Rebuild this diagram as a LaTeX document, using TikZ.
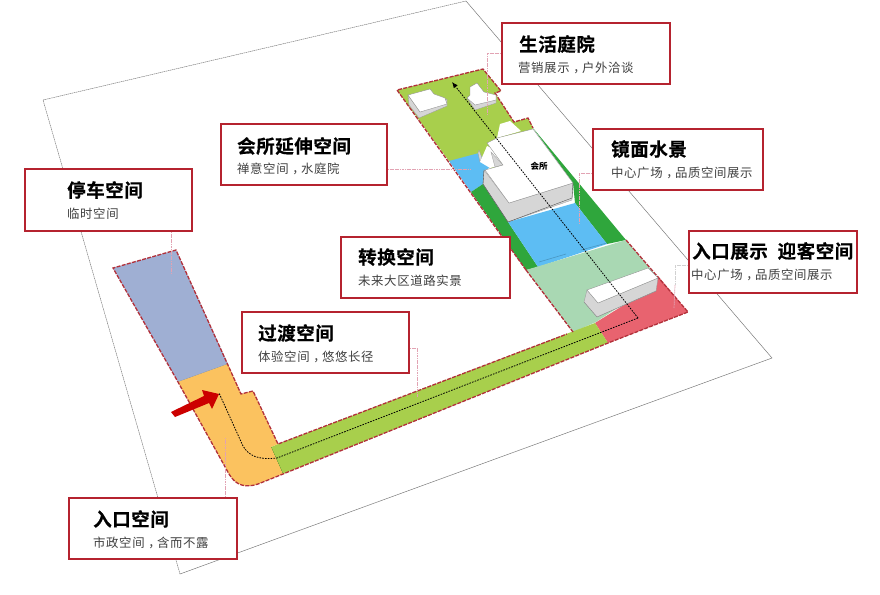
\documentclass[tikz,border=0pt]{standalone}
\usepackage{fontspec}
\usetikzlibrary{arrows.meta}
\newfontfamily\headfont[LetterSpace=3,BoldFont={Noto Sans CJK SC Bold},BoldFeatures={FakeBold=0.6}]{Noto Sans CJK SC}
\newfontfamily\subfont[LetterSpace=5]{Noto Sans CJK SC}
\newfontfamily\tagfont{Noto Sans CJK SC}
\newcommand{\cmm}{\hspace*{.3em}，\hspace*{-.3em}}
\definecolor{boxred}{HTML}{B5232F}
\definecolor{lawn}{HTML}{A8CF4C}
\definecolor{deepgreen}{HTML}{2FA63C}
\definecolor{water}{HTML}{5DBDF3}
\definecolor{palegreen}{HTML}{A9D8B3}
\definecolor{entryred}{HTML}{E8636F}
\definecolor{sand}{HTML}{FBC25F}
\definecolor{slateblue}{HTML}{9FAFD3}
\definecolor{wallgrey}{HTML}{D6D6D6}
\definecolor{leader}{HTML}{E2A3B3}
\definecolor{edgered}{HTML}{B2303A}
\tikzset{
 labelbox/.style={draw=boxred,line width=1.9pt,fill=white,inner sep=0pt},
 headtext/.style={anchor=west,inner sep=0pt,font=\headfont\bfseries\fontsize{18.5}{21}\selectfont,text=black},
 subtext/.style={anchor=west,inner sep=0pt,font=\subfont\fontsize{12.4}{14}\selectfont,text=black!75},
 leaderline/.style={draw=leader,line width=.7pt,dash pattern=on 1.2pt off .5pt},
 sheetline/.style={draw=black!55,line width=.45pt},
 sitedash/.style={draw=edgered,line width=1.3pt,dash pattern=on 4pt off 1.3pt},
 walk/.style={draw=black,line width=.8pt,dash pattern=on 1.6pt off 1.2pt},
 roof/.style={fill=white,draw=black!45,line width=.35pt},
 wall/.style={fill=wallgrey,draw=black!40,line width=.3pt},
}
\begin{document}
\begin{tikzpicture}[x=1pt,y=-1pt]
\useasboundingbox (0,0) rectangle (880,594);
\fill[white] (0,0) rectangle (880,594);
% sheet
\draw[sheetline,dash pattern=on 1.5pt off .6pt] (180,574) -- (43,100) -- (466,1);
\draw[sheetline] (466,1) -- (772,358) -- (180,574);
% upper parcel
\fill[lawn] (397,90) -- (483,69) -- (501,91) -- (495,93) -- (514,122) -- (528,118) -- (533,128) -- (500,170) -- (449,161) -- cycle;
\fill[water] (449,161) -- (479,153) -- (490,167) -- (484,172) -- (483,184) -- (471,192) -- cycle;
\fill[deepgreen] (471,192) -- (483,184) -- (508,222) -- (538,267) -- (526,270) -- cycle;
\fill[deepgreen] (533,128) -- (626,240) -- (607,244) -- (575,203) -- (573,183) -- cycle;
\fill[water] (508,222) -- (575,203) -- (607,244) -- (538,267) -- cycle;
\draw[water!80!black,line width=.6pt] (539,262) -- (566,254) (581,250) -- (607,243);
\fill[palegreen] (526,270) -- (626,240) -- (660,280) -- (596,322) -- (573,332) -- cycle;
\fill[entryred] (658,276) -- (688,312) -- (608,343) -- (595,323) -- (640,295) -- cycle;
% strip and west parcels
\fill[lawn] (271,447) -- (278,444) -- (595,323) -- (608,343) -- (283,474) -- cycle;
\draw[black!60!green,line width=.4pt] (271,447) -- (283,474);
\fill[slateblue] (113,268) -- (176,250) -- (228,364) -- (178,382) -- cycle;
\draw[black!50,line width=.4pt] (178,382) -- (228,364);
\fill[sand] (178,382) -- (228,364) -- (241,394) -- (253,391) -- (278,444) -- (271,447) -- (283,474) -- (258,484) .. controls (246,488) and (236,486) .. (229,474) -- cycle;
% dashed site edges
\draw[sitedash] (526,270) -- (397,90) -- (483,69) -- (501,91) -- (495,93) -- (514,122) -- (528,118) -- (533,128);
\draw[sitedash] (526,270) -- (573,332);
\draw[sitedash] (626,240) -- (688,312) -- (608,343) -- (283,474) -- (258,484) .. controls (246,488) and (236,486) .. (229,474) -- (178,382) -- (113,268) -- (176,250) -- (241,394) -- (253,391) -- (278,444) -- (567,334);
% small houses
\fill[wall] (408,95) -- (409,105) -- (419,118) -- (447,106) -- (447,99) -- (420,112) -- cycle;
\draw[roof] (408,95) -- (430,89) -- (434,94) -- (445,98) -- (447,104) -- (420,112) -- cycle;
\fill[wall] (467,98) -- (475,110) -- (496,103) -- (496,95) -- (475,103) -- cycle;
\draw[roof] (470,87) -- (477,83) -- (484,92) -- (496,95) -- (496,100) -- (475,105) -- (467,98) -- (470,95) -- cycle;
% clubhouse
\fill[white] (497,138) -- (500,124) -- (510,121) -- (521,131) -- cycle;
\fill[wall] (484,170) -- (483,184) -- (508,222) -- (572,200) -- (573,183) -- (509,203) -- cycle;
\fill[wall] (478,153) -- (480,162) -- (482,158) -- (479,150) -- cycle;
\fill[white] (480,162) -- (487,146) -- (491,148) -- (503,165) -- (490,168) -- cycle;
\fill[wall] (491,152) -- (503,165) -- (495,167) -- cycle;
\draw[roof] (497,138) -- (533,129) -- (573,183) -- (509,203) -- (485,170) -- (503,165) -- (487,143) -- cycle;
\draw[black!70,line width=.35pt] (573,183) -- (572,198) (484,170) -- (483,184) -- (508,222) -- (572,198);
% gate building
\fill[wall] (587,290) -- (584,302) -- (597,317) -- (656,291) -- (658,278) -- (598,303) -- cycle;
\draw[roof] (587,290) -- (648,268) -- (658,278) -- (598,303) -- cycle;
\draw[black!45,line width=.3pt] (584,302) -- (597,317) -- (656,291);
\node (clubtag) at (539,166) {\tagfont\bfseries\fontsize{8.5}{10}\selectfont 会所};
% walking route
\coordinate (routehead) at (452,82);
\coordinate (routecorner) at (638,318);
\coordinate (routebend) at (277,458);
\coordinate (routeend) at (219,393);
\draw[walk,-{Latex[length=6pt,width=5pt]}] (routecorner) -- (routehead);
\draw[walk] (routecorner) -- (routebend) .. controls (258,460) and (249,456) .. (243,446) -- (routeend);
% red arrow
\fill[red!80!black] (171,412) -- (175,417) -- (209,403) -- (212,409) -- (219,394) -- (202,390) -- (204,396) -- cycle;
% anchors of leader lines
\coordinate (endlife) at (487,115);
\coordinate (endmirror) at (579,223);
\coordinate (endgate) at (674,308);
\coordinate (endclub) at (470,169);
\coordinate (endpark) at (171,273);
\coordinate (endpass) at (417,397);
\coordinate (endentry) at (225,438);
% label boxes
\node[labelbox,minimum width=168pt,minimum height=61pt] (lifebox) at (586,53.5) {};
\node[labelbox,minimum width=170pt,minimum height=61pt] (mirrorbox) at (678,159.5) {};
\node[labelbox,minimum width=168pt,minimum height=62pt] (gatebox) at (773,262) {};
\node[labelbox,minimum width=169pt,minimum height=61pt] (changebox) at (425.5,267.5) {};
\node[labelbox,minimum width=167pt,minimum height=61pt] (passbox) at (325.5,342.5) {};
\node[labelbox,minimum width=166pt,minimum height=61pt] (clubbox) at (304,154.5) {};
\node[labelbox,minimum width=167pt,minimum height=62pt] (parkbox) at (108.5,200) {};
\node[labelbox,minimum width=168pt,minimum height=61pt] (entrybox) at (153,528.5) {};
% leader lines
\draw[leaderline] (lifebox.west |- 0,53) -- (487,53) -- (endlife);
\draw[leaderline] (mirrorbox.west |- 0,173) -- (579,173) -- (endmirror);
\draw[leaderline,draw=black!18] (gatebox.west |- 0,265) -- (675,265) -- (675,285);
\draw[leaderline] (675,285) -- (endgate);
\draw[leaderline] (clubbox.east |- 0,169) -- (endclub);
\draw[leaderline] (parkbox.south -| 171,0) -- (endpark);
\draw[leaderline] (passbox.east |- 0,348) -- (417,348) -- (endpass);
\draw[leaderline] (entrybox.north -| 225,0) -- (endentry);
% label texts
\node[headtext] (lifehead) at (519,44) {生活庭院};
\node[subtext] (lifesub) at (518,68) {营销展示\cmm 户外洽谈};
\node[headtext] (mirrorhead) at (611,149) {镜面水景};
\node[subtext] (mirrorsub) at (611,173) {中心广场\cmm 品质空间展示};
\node[headtext] (gatehead) at (692,251) {入口展示\hspace{5pt} 迎客空间};
\node[subtext] (gatesub) at (691,275) {中心广场\cmm 品质空间展示};
\node[headtext] (changehead) at (358,257) {转换空间};
\node[subtext] (changesub) at (358,281) {未来大区道路实景};
\node[headtext] (passhead) at (258,333) {过渡空间};
\node[subtext] (passsub) at (258,357) {体验空间\cmm 悠悠长径};
\node[headtext] (clubhead) at (237,146) {会所延伸空间};
\node[subtext] (clubsub) at (237,169) {禅意空间\cmm 水庭院};
\node[headtext] (parkhead) at (67,190) {停车空间};
\node[subtext] (parksub) at (67,214) {临时空间};
\node[headtext] (entryhead) at (93,519) {入口空间};
\node[subtext] (entrysub) at (93,543) {市政空间\cmm 含而不露};
\end{tikzpicture}
\end{document}
